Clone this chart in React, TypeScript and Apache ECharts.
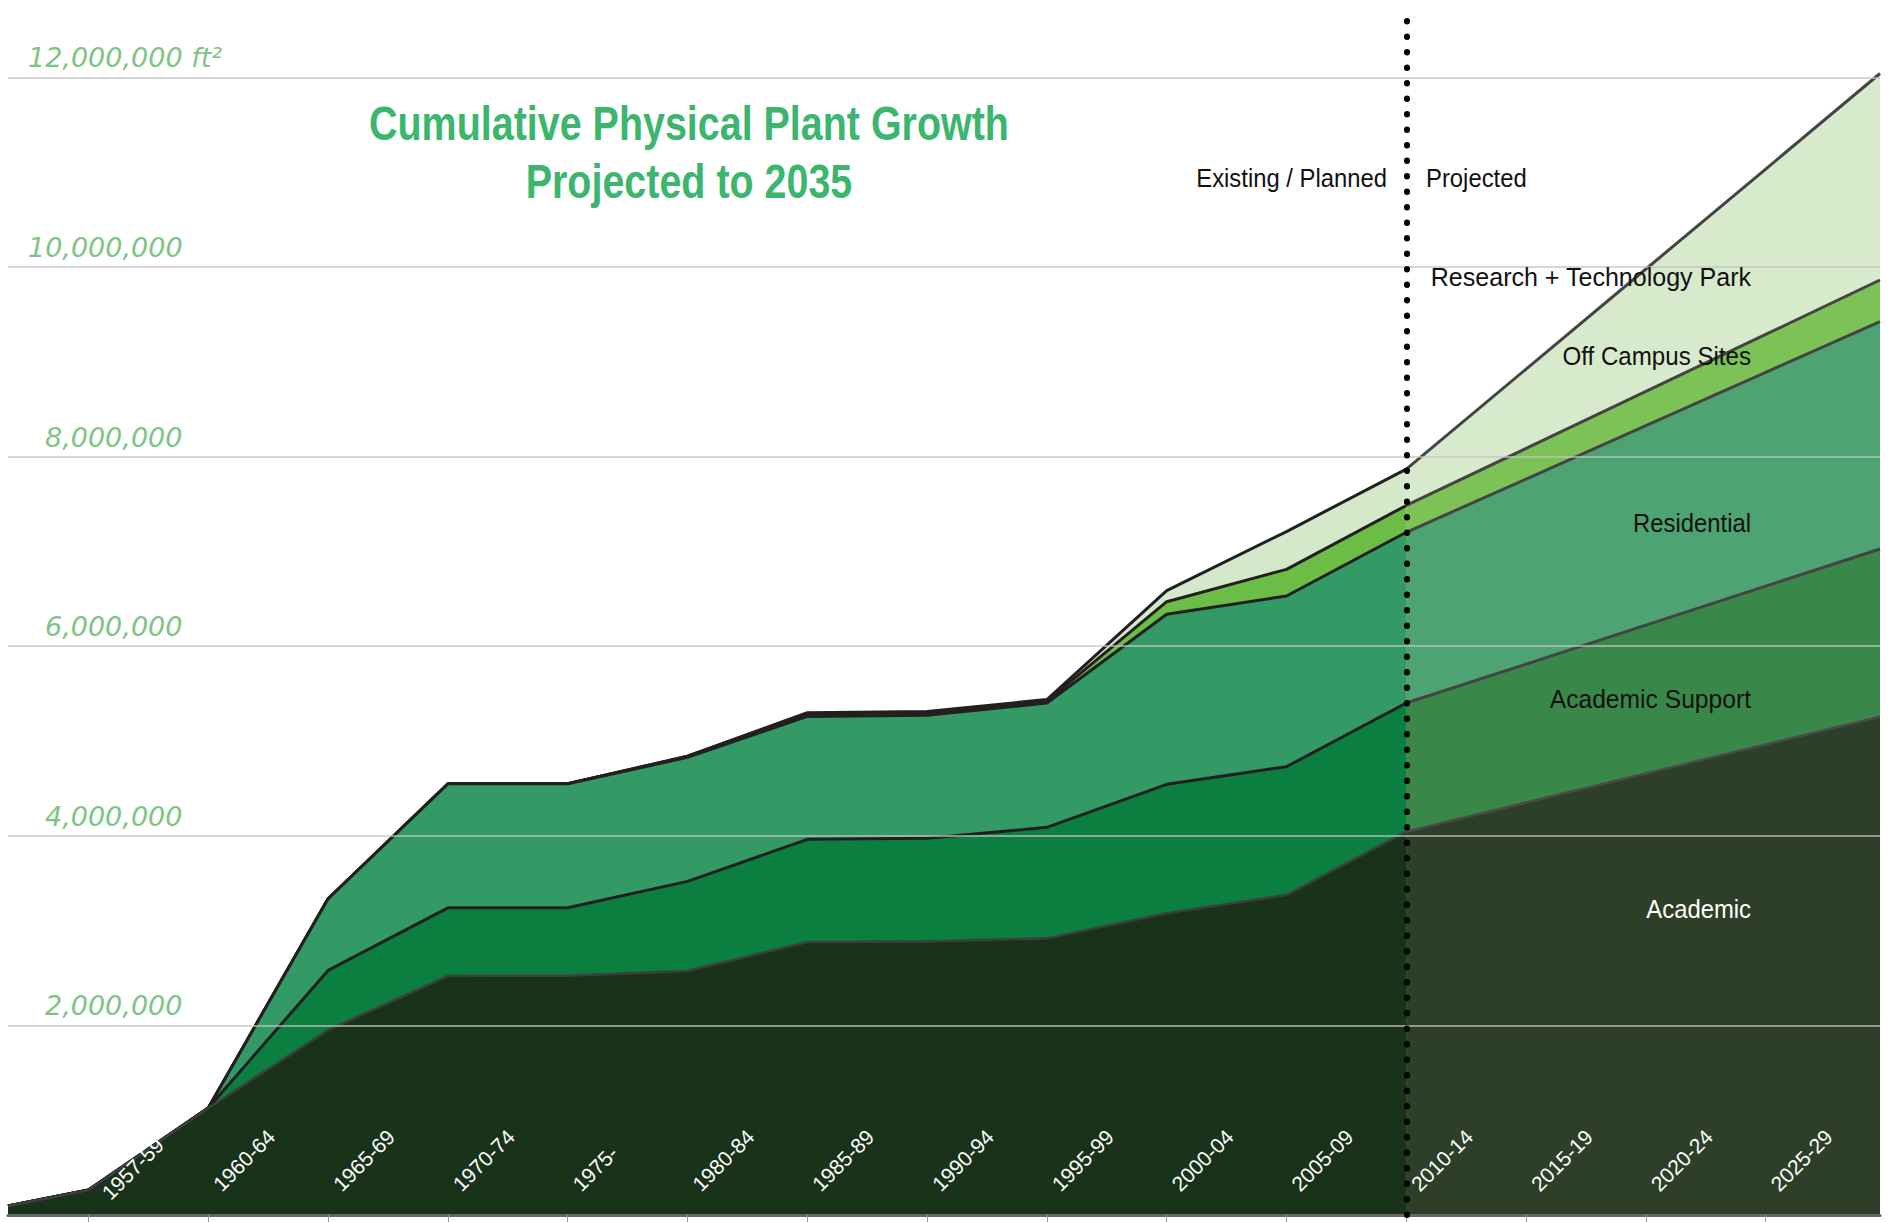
import React, { useEffect, useRef } from 'react';
import * as echarts from 'echarts';

// Period labels placed at the axis ticks
const periodLabels = ['1957-59', '1960-64', '1965-69', '1970-74', '1975-', '1980-84', '1985-89', '1990-94', '1995-99', '2000-04', '2005-09', '2010-14', '2015-19', '2020-24', '2025-29'];
const tickPositions = [0, 1, 2, 3, 4, 5, 6, 7, 8, 9, 10, 11, 12, 13, 14];
// Data point positions along the period axis (first / last are the chart edges)
const xPoints = [-0.672, 0, 1, 2, 3, 4, 5, 6, 7, 8, 9, 10, 11, 12, 13, 14, 14.954];
const projectedFrom = 12; // index in xPoints of 2010-14 (start of projection)

// Square feet, millions (increment per layer)
const academic = [0.095, 0.264, 1.129, 1.95, 2.521, 2.524, 2.574, 2.88, 2.886, 2.918, 3.182, 3.375, 4.043, 4.35, 4.657, 4.963, 5.256];
const academicSupport = [0, 0, 0, 0.63, 0.719, 0.716, 0.945, 1.082, 1.088, 1.171, 1.361, 1.354, 1.357, 1.461, 1.565, 1.67, 1.769];
const residential = [0, 0, 0, 0.756, 1.308, 1.308, 1.308, 1.297, 1.298, 1.311, 1.793, 1.8, 1.801, 1.952, 2.103, 2.255, 2.399];
const offCampus = [0, 0, 0, 0, 0, 0, 0.012, 0.025, 0.025, 0.02, 0.133, 0.281, 0.283, 0.322, 0.362, 0.4, 0.438];
const researchPark = [0, 0, 0, 0, 0, 0, 0, 0.014, 0.014, 0.017, 0.116, 0.399, 0.384, 0.838, 1.291, 1.744, 2.178];

const yTicksMax = 12000000;
const yInterval = 2000000;
const yMax = 12750000;
const projectedStart = 11;

const layers = [
  { name: 'Academic', values: academic, fill: ['#19321a', '#2d3f28'], line: ['#3e3e3e', '#4a4a4a'], width: 2.5 },
  { name: 'Academic Support', values: academicSupport, fill: ['#0a7f3f', '#3a8849'], line: ['#231f20', '#444444'], width: 3 },
  { name: 'Residential', values: residential, fill: ['#339a66', '#4ea373'], line: ['#231f20', '#444444'], width: 3 },
  { name: 'Off Campus Sites', values: offCampus, fill: ['#6cbd46', '#7cc256'], line: ['#231f20', '#444444'], width: 3 },
  { name: 'Research + Technology Park', values: researchPark, fill: ['#d3e9c9', '#d8eacc'], line: ['#231f20', '#444444'], width: 3 },
];

const sans = '"Liberation Sans", Arial, sans-serif';
const yFont = '"DejaVu Sans", sans-serif';

export default function App() {
  const ref = useRef<HTMLDivElement>(null);
  useEffect(() => {
    const chart = echarts.init(ref.current as HTMLDivElement, null, { renderer: 'svg' });
    // cumulative totals (each layer's top edge)
    const cumulative = layers.map((_, li) =>
      xPoints.map((__, i) => layers.slice(0, li + 1).reduce((s, l) => s + l.values[i], 0) * 1e6));
    const series: any[] = [];
    layers.forEach((l, li) => {
      const z = 7 - li;
      const top = cumulative[li];
      const existing = xPoints.slice(0, projectedFrom + 1).map((x, i) => [x, top[i]]);
      const projected = xPoints.slice(projectedFrom).map((x, i) => [x, top[projectedFrom + i]]);
      const s1: any = {
        type: 'line', name: l.name, data: existing, symbol: 'none', showSymbol: false,
        areaStyle: { color: l.fill[0], opacity: 1 },
        lineStyle: { color: l.line[0], width: l.width, join: 'round' },
        z, clip: false, silent: true,
      };
      if (li === 0) {
        s1.markLine = {
          silent: true, symbol: ['none', 'none'], label: { show: false }, z: 12,
          lineStyle: { color: '#000', width: 6, type: [0.5, 15.0], cap: 'round' },
          data: [{ xAxis: projectedStart }],
        };
      }
      series.push(s1);
      series.push({
        type: 'line', name: l.name + ' (projected)', data: projected, symbol: 'none', showSymbol: false,
        areaStyle: { color: l.fill[1], opacity: 1 },
        lineStyle: { color: l.line[1], width: l.width, join: 'round' },
        z, clip: false, silent: true,
      });
    });

    const labelColor = '#111';
    const lbl = (text: string, x: number, y: number, align: string, fill = labelColor, sx = 0.9) => ({
      type: 'text', x, y, z: 20, silent: true, scaleX: sx,
      style: { text, fill, font: '26.5px ' + sans, align, verticalAlign: 'middle' },
    });
    const option: any = {
      animation: false,
      backgroundColor: '#fff',
      grid: { left: 8, right: 11, top: 6.2, bottom: 7, outerBoundsMode: 'none', containLabel: false },
      xAxis: {
        type: 'value', min: xPoints[0], max: xPoints[xPoints.length - 1], z: 10,
        splitLine: { show: false },
        axisLine: { show: true, onZero: false, lineStyle: { color: '#666', width: 3 } },
        axisTick: { show: true, customValues: tickPositions, length: 7, lineStyle: { color: '#999', width: 1 } },
        axisLabel: {
          show: true, customValues: tickPositions, inside: true, rotate: 45, margin: 19, padding: [0, 0, 0, 12],
          color: '#fff', fontSize: 21, fontFamily: sans, lineHeight: 24,
          formatter: (v: number) => {
            const i = Math.round(v);
            const t = periodLabels[i] ?? '';
            return i === 0 ? ' \n' + t : t;
          },
        },
      },
      yAxis: {
        type: 'value', min: 0, max: yMax, interval: yInterval, z: 10,
        axisLine: { show: false }, axisTick: { show: false },
        splitLine: { show: true, showMaxLine: false, lineStyle: { color: 'rgba(195,195,195,0.9)', width: 1.5 } },
        axisLabel: {
          inside: true, align: 'left', verticalAlign: 'bottom', margin: 20, padding: [0, 0, 6, 0],
          color: '#7ec484', fontSize: 27, fontStyle: 'italic', fontFamily: yFont,
          formatter: (v: number) => {
            if (v <= 0 || v > yTicksMax) return '';
            const s = Math.round(v).toLocaleString('en-US');
            if (v === yTicksMax) return s + ' ft²';
            return v < 10000000 ? '{p| }' + s : s;
          },
          rich: { p: { width: 17, color: '#7ec484', fontSize: 27, fontStyle: 'italic', fontFamily: yFont } },
        },
      },
      series,
      graphic: [
        { type: 'text', x: 689, y: 152, z: 20, silent: true, scaleX: 0.805, style: { text: 'Cumulative Physical Plant Growth\nProjected to 2035', fill: '#3cb66e', font: 'bold 49px ' + sans, align: 'center', verticalAlign: 'middle', lineHeight: 58 } },
        lbl('Existing / Planned', 1387, 178, 'right'),
        lbl('Projected', 1426, 178, 'left'),
        lbl('Research + Technology Park', 1751, 277, 'right', labelColor, 0.945),
        lbl('Off Campus Sites', 1751, 356, 'right', labelColor, 0.91),
        lbl('Residential', 1751, 523, 'right'),
        lbl('Academic Support', 1751, 699, 'right', labelColor, 0.93),
        lbl('Academic', 1751, 909, 'right', '#fff'),
      ],
    };
    chart.setOption(option);
    return () => chart.dispose();
  }, []);
  return <div ref={ref} style={{ position: 'fixed', left: 0, top: 0, width: '100vw', height: '100vh', background: '#fff' }} />;
}
